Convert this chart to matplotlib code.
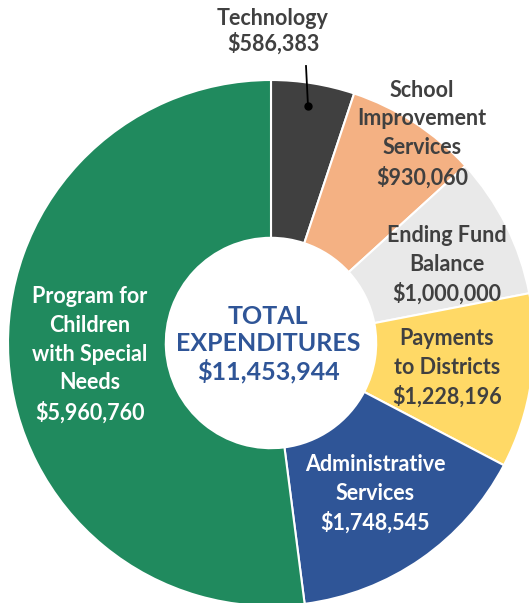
import matplotlib
matplotlib.use("Agg")
import matplotlib.pyplot as plt

plt.rcParams['font.family'] = ['Lato', 'DejaVu Sans']

# data
categories = ["Technology", "School\nImprovement\nServices", "Ending Fund\nBalance",
              "Payments\nto Districts", "Administrative\nServices",
              "Program for\nChildren\nwith Special\nNeeds"]
amounts = [586383, 930060, 1000000, 1228196, 1748545, 5960760]
colors = ["#404040", "#F4B183", "#E9E9E9", "#FFD966", "#2F5597", "#208A5E"]
text_colors = ["#404040", "#404040", "#404040", "#404040", "white", "white"]

# label positions in pixels (x, y from top)
label_pos = [(273, 31), (422, 134), (447, 265), (447, 368), (375, 494), (90, 355)]
label_spacing = [1.2, 1.45, 1.45, 1.45, 1.45, 1.45]

W, H = 529, 603
cx, cy, R = 271, 343, 263

fig = plt.figure(figsize=(W / 100, H / 100), dpi=100)
ax = fig.add_axes([0, 0, 1, 1])

wedges, _ = ax.pie(amounts, colors=colors, startangle=90, counterclock=False,
                   radius=R, center=(cx, H - cy),
                   wedgeprops=dict(width=R * 0.6, edgecolor="white", linewidth=1.5))

for name, val, (x, y), c, ls in zip(categories, amounts, label_pos, text_colors, label_spacing):
    ax.text(x, H - y, name + "\n${:,}".format(val), ha="center", va="center",
            color=c, fontsize=15.5, fontweight="bold", linespacing=ls)

# leader line for Technology
ax.plot([306, 308], [H - 66, H - 106], color="black", lw=1.3)
ax.plot([308], [H - 106], "o", color="black", ms=5)

total = sum(amounts)
ax.text(cx - 3, H - 344, "TOTAL\nEXPENDITURES\n${:,}".format(total), ha="center",
        va="center", color="#2F5597", fontsize=18, fontweight="bold", linespacing=1.2)

ax.set_xlim(0, W)
ax.set_ylim(0, H)
ax.set_aspect("equal")
ax.axis("off")

fig.savefig("out.png", dpi=100, facecolor="white")
